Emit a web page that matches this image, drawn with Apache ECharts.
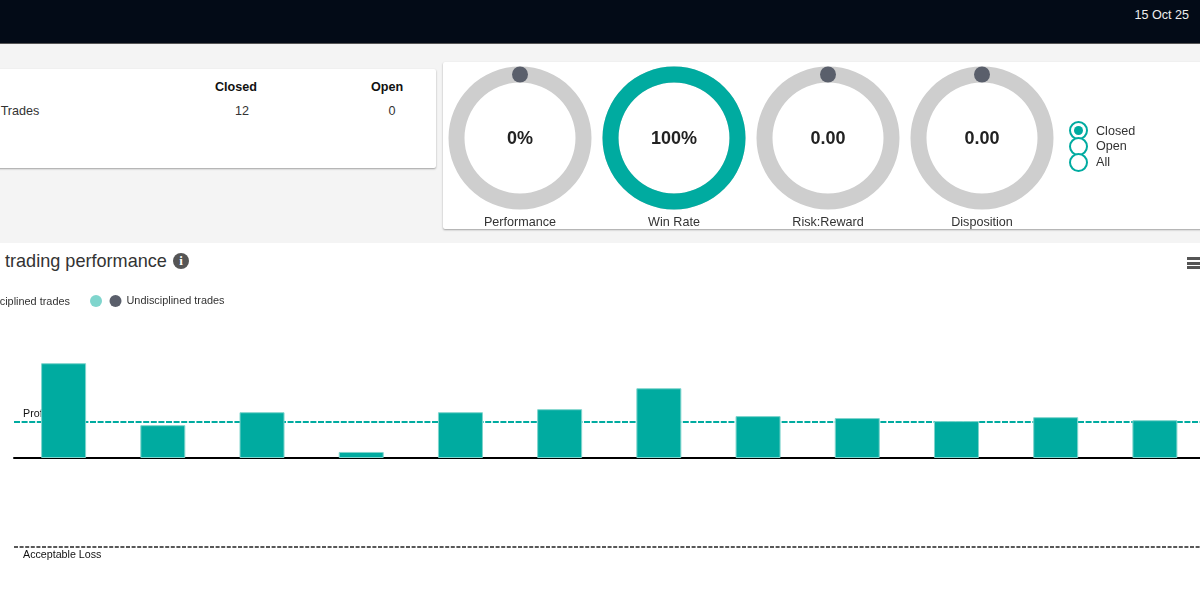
<!DOCTYPE html>
<html>
<head>
<meta charset="utf-8">
<title>Trading performance</title>
<script src="https://cdn.jsdelivr.net/npm/echarts@6/dist/echarts.min.js"></script>
<style>
html, body { margin: 0; padding: 0; width: 1200px; height: 589px; overflow: hidden; background: #f4f4f4;
    font-family: "Liberation Sans", Arial, sans-serif; color: #333; }
div, span { position: absolute; white-space: nowrap; }
#topbar { left: 0; top: 0; width: 1200px; height: 44px; background: #030b17; border-bottom: 1px solid #555; box-sizing: border-box; }
#date { right: 11px; top: 8px; font-size: 12.6px; color: #eee; }
.card { background: #fff; box-shadow: 0 1px 2px rgba(0, 0, 0, .35); border-radius: 2px; }
#tradeCard { left: -10px; top: 69px; width: 446px; height: 99px; }
#gaugeCard { left: 443px; top: 62px; width: 770px; height: 167px; }
#panel { left: 0; top: 243px; width: 1200px; height: 346px; background: #fff; }
.cell { font-size: 12.6px; transform: translateX(-50%); }
.head { font-weight: bold; color: #111; }
#panelTitle { left: 5px; top: 251px; font-size: 18.1px; color: #333; }
#info { left: 173px; top: 253px; width: 16px; height: 16px; border-radius: 50%; background: #555;
    color: #fff; font: bold 13px/16px "Liberation Serif", serif; text-align: center; }
.burger { left: 1187px; width: 14px; height: 3px; background: #555; }
.radio { left: 1069px; width: 15px; height: 15px; border: 2px solid #00aba0; border-radius: 50%; background: #fff; }
.radio i { position: absolute; left: 3px; top: 3px; width: 9px; height: 9px; border-radius: 50%; background: #00aba0; }
.radioText { left: 1096px; font-size: 12.6px; color: #333; }
#main { left: 0; top: 0; width: 1212px; height: 620px; }
</style>
</head>
<body>
<div id="topbar"><span id="date">15 Oct 25</span></div>
<div id="tradeCard" class="card"></div>
<div id="gaugeCard" class="card"></div>
<div id="panel"></div>
<span class="cell head" style="left:236px;top:80px">Closed</span>
<span class="cell head" style="left:387px;top:80px">Open</span>
<span class="cell" style="left:20px;top:104px">Trades</span>
<span class="cell" style="left:242px;top:104px">12</span>
<span class="cell" style="left:392px;top:104px">0</span>
<span id="panelTitle">trading performance</span>
<span id="info">i</span>
<div class="burger" style="top:257px"></div>
<div class="burger" style="top:261.5px"></div>
<div class="burger" style="top:266px"></div>
<div id="main"></div>
<div class="radio" style="top:120.5px"><i></i></div>
<div class="radio" style="top:136.5px"></div>
<div class="radio" style="top:152.5px"></div>
<span class="radioText" style="top:123.5px">Closed</span>
<span class="radioText" style="top:139px">Open</span>
<span class="radioText" style="top:155px">All</span>
<script>
var gaugeNames = ['Performance', 'Win Rate', 'Risk:Reward', 'Disposition'];
var gaugeValues = [0, 100, 0, 0];
var gaugeLabels = ['0%', '100%', '0.00', '0.00'];
var gaugeCenters = [520, 674, 828, 982];

var tradeCategories = ['1', '2', '3', '4', '5', '6', '7', '8', '9', '10', '11', '12'];
var tradeResults = [534, 185, 258, 34, 258, 275, 393, 236, 225, 208, 230, 213];
var profitTarget = 205;
var acceptableLoss = -500;

var TEAL = '#00aba0';
var LIGHT_TEAL = '#7fd5cd';
var DARK = '#5a5f6b';

var series = gaugeNames.map(function (name, i) {
    return {
        type: 'gauge',
        center: [gaugeCenters[i], 138],
        radius: 71.5,
        startAngle: 90,
        endAngle: -270,
        min: 0,
        max: 100,
        silent: true,
        axisLine: { lineStyle: { width: 16, color: [[1, '#cecece']] } },
        progress: { show: true, width: 16, itemStyle: { color: TEAL } },
        axisTick: { show: false },
        splitLine: { show: false },
        axisLabel: { show: false },
        pointer: {
            show: gaugeValues[i] < 100,
            icon: 'circle',
            width: 16,
            length: 16,
            offsetCenter: [0, -55.5],
            itemStyle: { color: DARK }
        },
        anchor: { show: false },
        title: { offsetCenter: [0, 84.5], fontSize: 12.6, color: '#333', fontFamily: 'Liberation Sans' },
        detail: {
            offsetCenter: [0, 1],
            fontSize: 18,
            fontWeight: 'bold',
            color: '#222',
            fontFamily: 'Liberation Sans',
            formatter: gaugeLabels[i]
        },
        data: [{ name: name, value: gaugeValues[i] }]
    };
});

series.push({
    name: 'Disciplined trades',
    type: 'bar',
    stack: 'trades',
    barWidth: 45,
    data: tradeResults,
    itemStyle: { color: TEAL, borderColor: LIGHT_TEAL, borderWidth: 1 },
    markLine: {
        z: 1,
        silent: true,
        symbol: 'none',
        animation: false,
        data: [
            {
                yAxis: profitTarget,
                lineStyle: { color: TEAL, type: [6, 1.6], width: 1.8 },
                label: { formatter: 'Profit Target', position: 'insideStartTop' }
            },
            {
                yAxis: acceptableLoss,
                lineStyle: { color: '#222', type: [4, 1.6], width: 1.6 },
                label: { formatter: 'Acceptable Loss', position: 'insideStartBottom', distance: [9, 3] }
            }
        ],
        label: { color: '#111', fontSize: 10.7, fontFamily: 'Liberation Sans', distance: [9, 2] }
    }
});
// these two have no bars in this view, they only feed the legend
series.push({ name: 'Undisciplined wins', type: 'bar', stack: 'trades', data: [], itemStyle: { color: LIGHT_TEAL } });
series.push({ name: 'Undisciplined trades', type: 'bar', stack: 'trades', data: [], itemStyle: { color: DARK } });

var legendBase = {
    top: 295,
    icon: 'circle',
    itemWidth: 12,
    itemHeight: 12,
    padding: 0,
    selectedMode: false,
    textStyle: { fontSize: 10.9, color: '#333', fontFamily: 'Liberation Sans' }
};

var option = {
    animation: false,
    backgroundColor: 'transparent',
    legend: [
        Object.assign({}, legendBase, { left: -34, data: ['Disciplined trades'] }),
        Object.assign({}, legendBase, { left: 90, data: ['Undisciplined wins'], formatter: function () { return ''; } }),
        Object.assign({}, legendBase, { left: 109.5, data: ['Undisciplined trades'] })
    ],
    grid: { left: 14, top: 316, width: 1190.5, height: 284, containLabel: false },
    xAxis: {
        type: 'category',
        data: tradeCategories,
        axisLine: { lineStyle: { color: '#000', width: 2 } },
        axisTick: { show: false },
        axisLabel: { show: false }
    },
    yAxis: {
        type: 'value',
        min: -800,
        max: 800,
        show: false,
        splitLine: { show: false }
    },
    series: series
};

var chart = echarts.init(document.getElementById('main'));
chart.setOption(option);
</script>
</body>
</html>
